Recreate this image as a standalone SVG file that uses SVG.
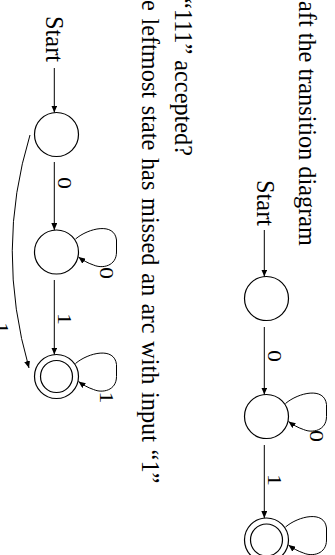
<svg xmlns="http://www.w3.org/2000/svg" width="335" height="555" viewBox="0 0 335 555">
  <style>
    .txt { font-family: "Liberation Serif", "Times New Roman", serif; font-size: 24.3px; fill: #000; }
    .lbl { font-family: "Liberation Serif", "Times New Roman", serif; font-size: 18.5px; fill: #000; text-anchor: middle; }
    .state { fill: none; stroke: #000; stroke-width: 1.2; }
    .edge { fill: none; stroke: #000; stroke-width: 1; marker-end: url(#arrow); }
  </style>
  <defs>
    <marker id="arrow" markerWidth="7" markerHeight="6" refX="7" refY="3" orient="auto" markerUnits="userSpaceOnUse">
      <path d="M0,0 L7,3 L0,6 z" fill="#000"/>
    </marker>
    <path id="loop" d="M -13,-19 C -24,-32 -30,-58 -12,-60 L 0,-60 C 14,-60 17,-46 13,-37 C 11,-31 8,-26 5,-22"/>
  </defs>
  <rect width="335" height="555" fill="#fff"/>

  <!-- page content laid out sideways -->
  <g transform="translate(335,0) rotate(90)">
    <g id="caption">
      <text class="txt" x="1" y="36">aft the transition diagram</text>
      <text class="txt" x="-2" y="160">“111” accepted?</text>
      <text class="txt" x="0" y="193" word-spacing="1.6">e leftmost state has missed an arc with input “1”</text>
    </g>

    <!-- upper diagram: three states in a row -->
    <g id="start-label-1"><text class="txt" x="226" y="78" text-anchor="end">Start</text></g>
    <g id="q0"><circle class="state" cx="298.5" cy="68.5" r="22"/></g>
    <g id="q1"><circle class="state" cx="416.5" cy="68.5" r="22"/></g>
    <g id="q2"><circle class="state" cx="540" cy="68.5" r="22"/><circle class="state" cx="540" cy="68.5" r="16"/></g>

    <!-- lower diagram: same states plus the extra "1" arc -->
    <g id="start-label-2"><text class="txt" x="62" y="289" text-anchor="end">Start</text></g>
    <g id="p0"><circle class="state" cx="134.5" cy="278.5" r="22"/></g>
    <g id="p1"><circle class="state" cx="252" cy="278.5" r="22"/></g>
    <g id="p2"><circle class="state" cx="376.5" cy="278.5" r="22"/><circle class="state" cx="376.5" cy="278.5" r="16"/></g>

    <g id="connectors">
      <!-- upper -->
      <line class="edge" x1="230" y1="70.7" x2="276.5" y2="70.7"/>
      <line class="edge" x1="327" y1="70.7" x2="394.5" y2="70.7"/>
      <line class="edge" x1="445" y1="70.7" x2="518" y2="70.7"/>
      <use href="#loop" class="edge" transform="translate(416.5,68.5)"/>
      <use href="#loop" class="edge" transform="translate(540,68.5)"/>
      <!-- lower -->
      <line class="edge" x1="68" y1="280.7" x2="112.5" y2="280.7"/>
      <line class="edge" x1="162" y1="280.7" x2="230" y2="280.7"/>
      <line class="edge" x1="280" y1="280.7" x2="354.5" y2="280.7"/>
      <use href="#loop" class="edge" transform="translate(252,278.5)"/>
      <use href="#loop" class="edge" transform="translate(376.5,278.5)"/>
      <path class="edge" d="M 135,305 Q 250,340 368,306"/>
    </g>

    <!-- edge labels, set wide -->
    <g id="edge-labels">
      <text class="lbl" transform="translate(356,67.5) scale(1.3,1)">0</text>
      <text class="lbl" transform="translate(480,67.5) scale(1.3,1)">1</text>
      <text class="lbl" transform="translate(436,25) scale(1.3,1)">0</text>
      <text class="lbl" transform="translate(183,277.5) scale(1.3,1)">0</text>
      <text class="lbl" transform="translate(319,277.5) scale(1.3,1)">1</text>
      <text class="lbl" transform="translate(273,235) scale(1.3,1)">0</text>
      <text class="lbl" transform="translate(397.5,235) scale(1.3,1)">1</text>
      <text class="lbl" transform="translate(328,340) scale(1.3,1)">1</text>
    </g>
  </g>
</svg>
